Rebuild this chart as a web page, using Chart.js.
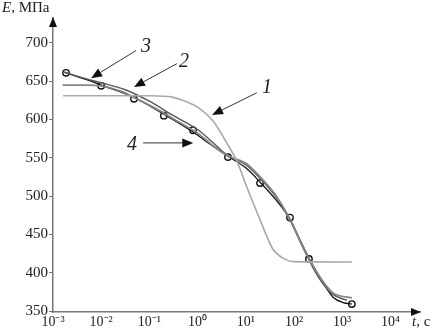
<!DOCTYPE html>
<html><head><meta charset="utf-8">
<script src="https://cdn.jsdelivr.net/npm/chart.js@4/dist/chart.umd.min.js"></script>
<style>html,body{margin:0;padding:0;background:#fff}#wrap{width:435px;height:331px}</style>
</head><body><div id="wrap"><canvas id="c" width="435" height="331"></canvas></div>
<script>
// ---- data (log10 of t in seconds, E in MPa) ----
const xTickExps = [-3, -2, -1, 0, 1, 2, 3, 4];
const yTickValues = [350, 400, 450, 500, 550, 600, 650, 700];

const curve1LogT = [-2.79, -0.99, -0.5, -0.30, 0.05, 0.32, 0.61, 0.82, 1.02, 1.29, 1.44, 1.56, 1.77, 1.98, 3.20];
const curve1E    = [631, 631, 629, 625, 614, 598, 569, 545, 512, 470, 447, 431, 419, 414.5, 414];

const curve2LogT = [-2.8, -2.3, -2.0, -1.6, -1.2, -0.8, -0.4, 0, 0.4, 0.65, 1.0, 1.3, 1.6, 1.9, 2.2, 2.5, 2.8, 3.2];
const curve2E    = [645, 645, 644, 637, 625, 612, 597, 582, 562, 552, 543, 525, 503, 472, 432, 398, 374, 367];

const curve3LogT = [-2.78, -2.3, -2.0, -1.5, -1.0, -0.5, 0, 0.3, 0.6, 1.0, 1.3, 1.6, 1.9, 2.2, 2.5, 2.8, 3.1];
const curve3E    = [662, 653, 648, 639, 624, 605, 587, 571, 554, 541, 523, 501, 471, 431, 395, 372, 364];

const curve4LogT = [-2.73, -2.3, -2.0, -1.32, -0.7, -0.1, 0.3, 0.63, 1.0, 1.3, 1.6, 1.917, 2.1, 2.31, 2.6, 2.81, 3.02, 3.2];
const curve4E    = [661, 652, 645, 629, 607, 584, 566, 552, 537, 518, 497, 470, 446, 419, 387, 368, 361, 359];

const expLogT = [-2.73, -2.0, -1.32, -0.70, -0.095, 0.63, 1.295, 1.917, 2.31, 3.20];
const expE    = [661, 644, 627, 605, 586, 551, 517, 472, 418, 359];

// annotation labels: [text, logT, E]
const annLabels = [["1", 1.44, 642], ["2", -0.28, 676], ["3", -1.07, 695], ["4", -1.36, 567]];
// annotation arrows: [tailLogT, tailE, tipLogT, tipE]
const annArrows = [[1.23, 635, 0.30, 606], [-0.43, 673, -1.32, 642.5], [-1.28, 690, -2.21, 654], [-1.13, 569.5, -0.09, 569.5]];

const pts = (lt, e) => lt.map((v, i) => ({x: Math.pow(10, v), y: e[i]}));
const sup = {'-':'\u207B','0':'\u2070','1':'\u00B9','2':'\u00B2','3':'\u00B3','4':'\u2074','5':'\u2075'};

const lineDs = (label, lt, e, color, w) => ({
  label, data: pts(lt, e), showLine: true, borderColor: color, borderWidth: w,
  pointRadius: 0, cubicInterpolationMode: 'monotone', fill: false
});

const decor = {
  id: 'decor',
  afterDraw(chart) {
    const ctx = chart.ctx, xs = chart.scales.x, ys = chart.scales.y, ca = chart.chartArea;
    ctx.save();
    // axis arrows
    ctx.fillStyle = '#111';
    ctx.beginPath(); ctx.moveTo(ca.left, ca.top - 1); ctx.lineTo(ca.left - 4, ca.top + 9); ctx.lineTo(ca.left + 4, ca.top + 9); ctx.closePath(); ctx.fill();
    ctx.beginPath(); ctx.moveTo(ca.right + 1, ca.bottom); ctx.lineTo(ca.right - 9, ca.bottom - 4); ctx.lineTo(ca.right - 9, ca.bottom + 4); ctx.closePath(); ctx.fill();
    // axis titles
    ctx.fillStyle = '#222';
    ctx.textBaseline = 'middle'; ctx.textAlign = 'left';
    ctx.font = 'italic 15px "Liberation Serif"';
    ctx.fillText('E', 2, 8);
    let w = ctx.measureText('E').width;
    ctx.font = '15px "Liberation Serif"';
    ctx.fillText(', МПа', 2 + w, 8);
    ctx.font = 'italic 15px "Liberation Serif"';
    ctx.fillText('t', 412, 322);
    w = ctx.measureText('t').width;
    ctx.font = '15px "Liberation Serif"';
    ctx.fillText(', c', 412 + w, 322);
    // annotation arrows
    ctx.strokeStyle = '#333'; ctx.lineWidth = 1; ctx.fillStyle = '#111';
    annArrows.forEach(a => {
      const x1 = xs.getPixelForValue(Math.pow(10, a[0])), y1 = ys.getPixelForValue(a[1]);
      const x2 = xs.getPixelForValue(Math.pow(10, a[2])), y2 = ys.getPixelForValue(a[3]);
      const ang = Math.atan2(y2 - y1, x2 - x1), L = 11, H = 4.5;
      const bx = x2 - L * Math.cos(ang), by = y2 - L * Math.sin(ang);
      ctx.beginPath(); ctx.moveTo(x1, y1); ctx.lineTo(bx, by); ctx.stroke();
      ctx.beginPath(); ctx.moveTo(x2, y2);
      ctx.lineTo(bx + H * Math.sin(ang), by - H * Math.cos(ang));
      ctx.lineTo(bx - H * Math.sin(ang), by + H * Math.cos(ang));
      ctx.closePath(); ctx.fill();
    });
    ctx.font = 'italic 20px "Liberation Serif"'; ctx.fillStyle = '#222';
    ctx.textAlign = 'center'; ctx.textBaseline = 'middle';
    annLabels.forEach(l => ctx.fillText(l[0], xs.getPixelForValue(Math.pow(10, l[1])), ys.getPixelForValue(l[2])));
    ctx.restore();
  }
};

new Chart(document.getElementById('c'), {
  type: 'scatter',
  data: {
    datasets: [
      lineDs('1', curve1LogT, curve1E, '#a9a9a9', 1.6),
      lineDs('2', curve2LogT, curve2E, '#858585', 1.8),
      lineDs('3', curve3LogT, curve3E, '#5a5a5a', 1.5),
      lineDs('4', curve4LogT, curve4E, '#111111', 1.3),
      { label: 'exp', data: pts(expLogT, expE), showLine: false, pointRadius: 3.2,
        pointBorderColor: '#111', pointBackgroundColor: '#fff', pointBorderWidth: 1.4 }
    ]
  },
  options: {
    responsive: false, animation: false, devicePixelRatio: 1,
    layout: { padding: { top: 18, right: 15, left: 0, bottom: 0 } },
    plugins: { legend: { display: false }, tooltip: { enabled: false } },
    scales: {
      x: {
        type: 'logarithmic', min: 0.001, max: Math.pow(10, 4.614),
        afterBuildTicks: s => { s.ticks = xTickExps.map(e => ({ value: Math.pow(10, e) })); },
        afterFit: s => { s.height = 19; },
        ticks: {
          autoSkip: false, maxRotation: 0, padding: 2, color: '#222',
          font: { family: '"Liberation Serif"', size: 14 },
          callback: v => '10' + String(Math.round(Math.log10(v))).split('').map(c => sup[c]).join('')
        },
        grid: { display: true, drawOnChartArea: false, drawTicks: false },
        border: { color: '#777', width: 1.5 }
      },
      y: {
        min: 348.7, max: 732.6,
        afterBuildTicks: s => { s.ticks = yTickValues.map(v => ({ value: v })); },
        afterFit: s => { s.width = 53; },
        ticks: { padding: 1, color: '#222', font: { family: '"Liberation Serif"', size: 15 } },
        grid: { display: true, drawOnChartArea: false, drawTicks: true, tickLength: 4, color: '#777' },
        border: { color: '#777', width: 1.5 }
      }
    }
  },
  plugins: [decor]
});
</script></body></html>
